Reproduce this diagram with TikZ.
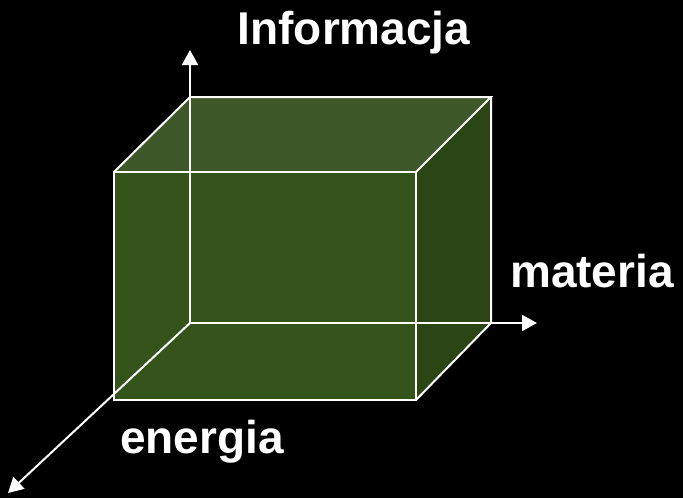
\documentclass[tikz,border=0pt]{standalone}
\usepackage{fontspec}
\setmainfont{Liberation Sans}
\usetikzlibrary{arrows.meta}
\definecolor{frontc}{RGB}{52,84,28}
\definecolor{topc}{RGB}{62,88,42}
\definecolor{sidec}{RGB}{43,69,21}
\tikzset{
  edge/.style={draw=white, line width=2pt, line join=miter},
  axis/.style={draw=white, line width=2pt, -{Triangle[length=15pt,width=16pt]}},
  lbl/.style={text=white, font=\fontsize{46}{50}\selectfont\bfseries, inner sep=0pt, anchor=base}
}
\begin{document}
\begin{tikzpicture}[x=1pt,y=-1pt]
\fill[black] (0,0) rectangle (683,498);
\useasboundingbox (0,0) rectangle (683,498);
% corners
\coordinate (FTL) at (114,172);
\coordinate (FTR) at (416,172);
\coordinate (FBR) at (416,400);
\coordinate (FBL) at (114,400);
\coordinate (BTL) at (190,97);
\coordinate (BTR) at (491,97);
\coordinate (BBR) at (491,323);
\coordinate (O) at (190,323);
\coordinate (Yt) at (190,50);
\coordinate (Xt) at (537,323);
\coordinate (Zt) at (8,493);
% faces
\fill[frontc] (FTL) -- (FTR) -- (FBR) -- (FBL) -- cycle;
\fill[topc] (FTL) -- (BTL) -- (BTR) -- (FTR) -- cycle;
\fill[sidec] (FTR) -- (BTR) -- (BBR) -- (FBR) -- cycle;
% axes
\draw[axis] (O) -- (Yt);
\draw[axis] (O) -- (Xt);
\draw[axis] (O) -- (Zt);
% edges
\draw[edge] (FTL) -- (FTR) -- (FBR) -- (FBL) -- cycle;
\draw[edge] (FTL) -- (BTL) -- (BTR) -- (FTR);
\draw[edge] (BTR) -- (BBR) -- (FBR);
% labels
\node[lbl] (info) at (354,44) {Informacja};
\node[lbl] (mat) at (592,287) {materia};
\node[lbl] (ene) at (202,453) {energia};
\end{tikzpicture}
\end{document}
